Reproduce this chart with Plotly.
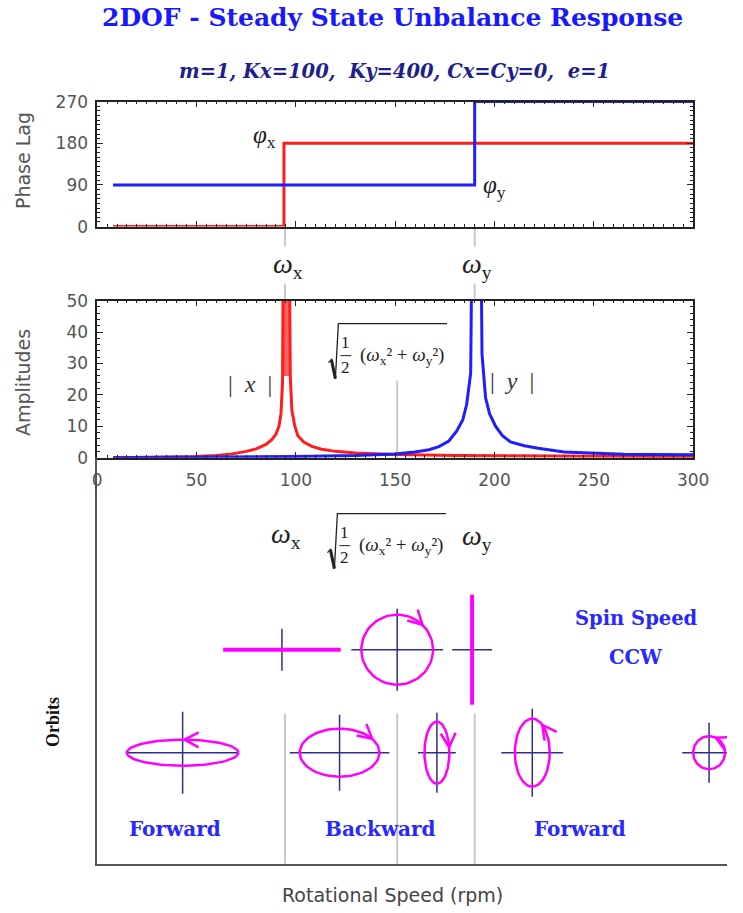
import math
import plotly.graph_objects as go

# ---------------- data ----------------
title_text = "2DOF - Steady State Unbalance Response"
subtitle_text = "m=1, Kx=100,  Ky=400, Cx=Cy=0,  e=1"

# natural frequencies (rpm)
omega_x = 94.5
omega_mid = 151
omega_y = 190

# phase lag (deg) vs speed (rpm), step curves
phase_x_speed = [8, 94, 300]
phase_x_deg = [0, 180, 180]
phase_y_speed = [8, 190, 300]
phase_y_deg = [90, 270, 270]

# amplitude |x| vs speed
amp_x_speed = [8, 30, 50, 60, 68, 75, 80, 85, 88, 90, 91.5, 92.5, 93.3, 93.8,
               96.6, 97.2, 98, 99.5, 101, 104, 108, 113, 120, 130, 150, 180, 220, 260, 300]
amp_x_val = [0, 0.1, 0.4, 0.7, 1.2, 2.0, 2.8, 4.2, 5.8, 7.5, 10, 14, 24, 80,
             80, 26, 15, 10, 7, 5, 3.6, 2.7, 2.0, 1.5, 1.0, 0.7, 0.5, 0.4, 0.3]
peak_band_speed = [93.5, 96.9]
peak_band_amp = [26, 50]

# amplitude |y| vs speed
amp_y_speed = [8, 50, 100, 130, 150, 160, 167, 172, 177, 181, 184, 186, 188, 188.8,
               193, 193.7, 195.5, 197.5, 200.5, 204, 208, 215, 222, 235, 250, 265, 280, 300]
amp_y_val = [0, 0.1, 0.4, 0.7, 1.2, 1.8, 2.5, 3.5, 5.3, 8.5, 12, 17, 27, 80,
             80, 33, 19, 14, 10, 7, 5, 3.8, 3, 1.8, 1.4, 1.1, 1.0, 0.9]

# orbits: speed (rpm), row, semi-axes, direction (+1 CCW, -1 CW, 0 line)
orbit_speed = [93, 151, 188.7, 43, 122, 171, 219, 308]
orbit_row = ["top", "top", "top", "bottom", "bottom", "bottom", "bottom", "bottom"]
orbit_ax = [59, 36, 0, 56, 40, 12.5, 17.5, 16]
orbit_ay = [0, 35, 55, 13, 24, 31, 34, 16.5]
orbit_dir = [0, -1, 0, 1, -1, -1, 1, 1]
orbit_arrow_deg = [None, 45, None, 88, 35, 10, 55, 65]
cross_half_h = [21, 46, 20, 56, 50, 19, 31, 27]
cross_half_v = [21, 41, 20, 41, 38, 40, 44, 30]

# ---------------- layout helpers ----------------
W, H = 743, 913
# the photographed page appears slightly scaled/offset; positions below are target pixels
SX, OX = 0.975, 4.5
SY, OY = 0.978, 9.4
def fx(px):
    return ((px - OX) / SX) / W
def fy(py):
    return 1 - ((py - OY) / SY) / H

X0, X1 = 97, 695          # plot area x pixels for 0..300 rpm
PX_PER_RPM = (X1 - X0) / 300.0
ORB_TOP, ORB_BOT = 457, 863
RIGHT_EDGE = OX + SX * W
row_y = {"top": ORB_BOT - 649, "bottom": ORB_BOT - 752}

RED = "rgb(255,30,30)"
BLUE = "rgb(30,30,255)"
MAG = "rgb(255,0,255)"
NAVY = "rgb(45,45,140)"
GRAY = "rgb(200,200,200)"
SANS = "DejaVu Sans, Arial"
SERIF = "Liberation Serif, Times New Roman, serif"
WSERIF = "DejaVu Serif, serif"
AX_FONT = dict(family=SANS, size=17, color="#555")

fig = go.Figure()

# phase
fig.add_trace(go.Scatter(x=phase_x_speed, y=phase_x_deg, mode="lines", line=dict(color=RED, width=3, shape="hv"),
                         xaxis="x", yaxis="y", hoverinfo="skip"))
fig.add_trace(go.Scatter(x=phase_y_speed, y=phase_y_deg, mode="lines", line=dict(color=BLUE, width=3, shape="hv"),
                         xaxis="x", yaxis="y", hoverinfo="skip"))

# amplitudes
bx = [peak_band_speed[0], peak_band_speed[0], peak_band_speed[1], peak_band_speed[1]]
by = [peak_band_amp[0], peak_band_amp[1] + 10, peak_band_amp[1] + 10, peak_band_amp[0]]
fig.add_trace(go.Scatter(x=bx, y=by, mode="lines", fill="toself", fillcolor="rgba(255,70,70,0.85)",
                         line=dict(width=0, color=RED), xaxis="x2", yaxis="y2", hoverinfo="skip"))
fig.add_trace(go.Scatter(x=amp_x_speed, y=amp_x_val, mode="lines", line=dict(color=RED, width=3),
                         xaxis="x2", yaxis="y2", hoverinfo="skip"))
fig.add_trace(go.Scatter(x=amp_y_speed, y=amp_y_val, mode="lines", line=dict(color=BLUE, width=3),
                         xaxis="x2", yaxis="y2", hoverinfo="skip"))

# orbits
def to_data(speed, ry, dxp, dyp):
    return speed + dxp / PX_PER_RPM, ry + dyp

for i in range(len(orbit_speed)):
    s = orbit_speed[i]
    ry = row_y[orbit_row[i]]
    hx = [to_data(s, ry, -cross_half_h[i], 0)[0], to_data(s, ry, cross_half_h[i], 0)[0], None, s, s]
    hy = [ry, ry, None, ry - cross_half_v[i], ry + cross_half_v[i]]
    fig.add_trace(go.Scatter(x=hx, y=hy, mode="lines", line=dict(color=NAVY, width=1.5),
                             xaxis="x3", yaxis="y3", hoverinfo="skip"))
    a, b = orbit_ax[i], orbit_ay[i]
    if orbit_dir[i] == 0:
        xs = [to_data(s, ry, -a, -b)[0], to_data(s, ry, a, b)[0]]
        ys = [ry - b, ry + b]
        fig.add_trace(go.Scatter(x=xs, y=ys, mode="lines", line=dict(color=MAG, width=4),
                                 xaxis="x3", yaxis="y3", hoverinfo="skip"))
        continue
    n = 80
    xs, ys = [], []
    for k in range(n + 1):
        t = 2 * math.pi * k / n
        X, Y = to_data(s, ry, a * math.cos(t), b * math.sin(t))
        xs.append(X); ys.append(Y)
    fig.add_trace(go.Scatter(x=xs, y=ys, mode="lines", line=dict(color=MAG, width=2.5),
                             xaxis="x3", yaxis="y3", hoverinfo="skip"))
    th = math.radians(orbit_arrow_deg[i])
    px_, py_ = a * math.cos(th), b * math.sin(th)
    tx, ty = -a * math.sin(th) * orbit_dir[i], b * math.cos(th) * orbit_dir[i]
    nrm = math.hypot(tx, ty)
    tx, ty = tx / nrm, ty / nrm
    L, sp = 16, math.radians(28)
    arms = []
    for sgn in (1, -1):
        c, si = math.cos(sgn * sp), math.sin(sgn * sp)
        rx, ry_ = tx * c - ty * si, tx * si + ty * c
        arms.append((px_ - L * rx, py_ - L * ry_))
    pts = [arms[0], (px_, py_), arms[1]]
    fig.add_trace(go.Scatter(x=[to_data(s, ry, p[0], p[1])[0] for p in pts],
                             y=[to_data(s, ry, p[0], p[1])[1] for p in pts],
                             mode="lines", line=dict(color=MAG, width=2.5),
                             xaxis="x3", yaxis="y3", hoverinfo="skip"))

# ---------------- shapes (gray marker lines) ----------------
shapes = []
for w in (omega_x, omega_y):
    shapes.append(dict(type="line", xref="x", yref="paper", x0=w, x1=w, y0=fy(246), y1=fy(226),
                       line=dict(color=GRAY, width=2), layer="below"))
    shapes.append(dict(type="line", xref="x", yref="paper", x0=w, x1=w, y0=fy(300), y1=fy(283),
                       line=dict(color=GRAY, width=2), layer="below"))
shapes.append(dict(type="line", xref="x2", yref="paper", x0=omega_mid, x1=omega_mid, y0=fy(457), y1=fy(380),
                   line=dict(color=GRAY, width=2), layer="below"))
for w in (omega_x, omega_mid, omega_y):
    shapes.append(dict(type="line", xref="x3", yref="paper", x0=w, x1=w, y0=fy(863), y1=fy(713),
                       line=dict(color=GRAY, width=2), layer="below"))

# ---------------- annotations ----------------
def ann(text, x, y, size, color="#222", family=SERIF, angle=0, **kw):
    return dict(text=text, x=fx(x), y=fy(y), xref="paper", yref="paper", showarrow=False,
                font=dict(family=family, size=size, color=color), textangle=angle,
                xanchor="center", yanchor="middle", **kw)

BLUE_TXT = "rgb(40,40,255)"
annotations = [
    ann("<b>" + title_text + "</b>", 393, 17, 25, color="rgb(25,25,255)", family=WSERIF),
    ann("<b><i>" + subtitle_text + "</i></b>", 395, 71, 19.5, color="rgb(30,30,140)", family=WSERIF),
    ann("Phase Lag", 22, 160, 19, color="#555", family=SANS, angle=-90),
    ann("Amplitudes", 22, 382, 19, color="#555", family=SANS, angle=-90),
    ann("<b>Orbits</b>", 52, 721, 18, color="#111", angle=-90),
    ann("Rotational Speed (rpm)", 393, 894, 19, color="#444", family=SANS),
    ann("<i>φ</i><sub>x</sub>", 265, 136, 25),
    ann("<i>φ</i><sub>y</sub>", 496, 186, 25),
    ann("<i>ω</i><sub>x</sub>", 288, 265, 28),
    ann("<i>ω</i><sub>y</sub>", 478, 265, 28),
    ann("|  <i>x</i>  |", 250, 383, 24, color="#333"),
    ann("|  <i>y</i>  |", 513, 380, 24, color="#333"),
    ann("<i>ω</i><sub>x</sub>", 286, 535, 28),
    ann("<i>ω</i><sub>y</sub>", 478, 537, 28),
    ann("<b>Spin Speed</b>", 638, 618, 19.5, color=BLUE_TXT, family=WSERIF),
    ann("<b>CCW</b>", 638, 657, 19.5, color=BLUE_TXT, family=WSERIF),
    ann("<b>Forward</b>", 175, 828, 20, color=BLUE_TXT, family=WSERIF),
    ann("<b>Backward</b>", 381, 828, 20, color=BLUE_TXT, family=WSERIF),
    ann("<b>Forward</b>", 581, 828, 20, color=BLUE_TXT, family=WSERIF),
]

# square-root formula sqrt(1/2 (wx^2 + wy^2)) built from text pieces and strokes
def formula(x0, y0):
    col = "#222"
    annotations.append(ann("1", x0 + 17, y0 + 20, 17, color=col))
    annotations.append(ann("2", x0 + 17, y0 + 45, 17, color=col))
    annotations.append(ann("(<i>ω</i><sub>x</sub>² + <i>ω</i><sub>y</sub>²)", x0 + 74, y0 + 33, 19, color=col))
    shapes.append(dict(type="line", xref="paper", yref="paper", x0=fx(x0 + 12), x1=fx(x0 + 23),
                       y0=fy(y0 + 33), y1=fy(y0 + 33), line=dict(color=col, width=1)))
    shapes.append(dict(type="path", xref="paper", yref="paper",
                       path="M %f %f L %f %f L %f %f L %f %f L %f %f" % (
                           fx(x0), fy(y0 + 40), fx(x0 + 3), fy(y0 + 37), fx(x0 + 7), fy(y0 + 56),
                           fx(x0 + 10), fy(y0 + 1), fx(x0 + 119), fy(y0 + 1)),
                       line=dict(color=col, width=1.3)))
    shapes.append(dict(type="line", xref="paper", yref="paper", x0=fx(x0 + 3), x1=fx(x0 + 7),
                       y0=fy(y0 + 37), y1=fy(y0 + 56), line=dict(color=col, width=3)))

formula(329, 322)
formula(328, 512)

frame = dict(showline=True, linecolor="#222", linewidth=1.5, mirror="ticks", ticks="inside",
             tickcolor="#222", ticklen=6, tickwidth=1, showgrid=False, zeroline=False, fixedrange=True)

fig.update_layout(
    width=W, height=H, margin=dict(l=0, r=0, t=0, b=0),
    paper_bgcolor="white", plot_bgcolor="white", showlegend=False,
    shapes=shapes, annotations=annotations,
    xaxis=dict(domain=[fx(X0), fx(X1)], range=[0, 300], dtick=50, showticklabels=False,
               minor=dict(dtick=5, ticks="inside", ticklen=3, tickcolor="#222"), anchor="y", **frame),
    yaxis=dict(domain=[fy(226), fy(101)], range=[0, 270], tickvals=[0, 90, 180, 270],
               minor=dict(dtick=10, ticks="inside", ticklen=3, tickcolor="#222"), anchor="x",
               tickfont=AX_FONT, ticklabelstandoff=4, **frame),
    xaxis2=dict(domain=[fx(X0), fx(X1)], range=[0, 300], dtick=50, tickfont=AX_FONT,
                minor=dict(dtick=5, ticks="inside", ticklen=3, tickcolor="#222"), anchor="y2",
                ticklabelstandoff=6, **frame),
    yaxis2=dict(domain=[fy(457), fy(300)], range=[0, 50], dtick=10, tickfont=AX_FONT,
                minor=dict(dtick=2, ticks="inside", ticklen=3, tickcolor="#222"), anchor="x2",
                ticklabelstandoff=4, **frame),
    xaxis3=dict(domain=[fx(X0), 1], range=[0, (RIGHT_EDGE - X0) / PX_PER_RPM], showticklabels=False, ticks="",
                showline=True, linecolor="#555", linewidth=2, showgrid=False, zeroline=False,
                anchor="y3", fixedrange=True),
    yaxis3=dict(domain=[fy(ORB_BOT), fy(ORB_TOP)], range=[0, ORB_BOT - ORB_TOP], showticklabels=False,
                ticks="", showline=True, linecolor="#555", linewidth=2, showgrid=False, zeroline=False,
                anchor="x3", fixedrange=True),
)

post = ("document.documentElement.style.margin='0';document.body.style.margin='0';"
        "document.documentElement.style.overflow='hidden';document.body.style.overflow='hidden';"
        "var d=document.getElementById('{plot_id}');d.style.position='fixed';d.style.left='0px';d.style.top='0px';")
fig.write_html("out.html", config={"displayModeBar": False}, post_script=post)
